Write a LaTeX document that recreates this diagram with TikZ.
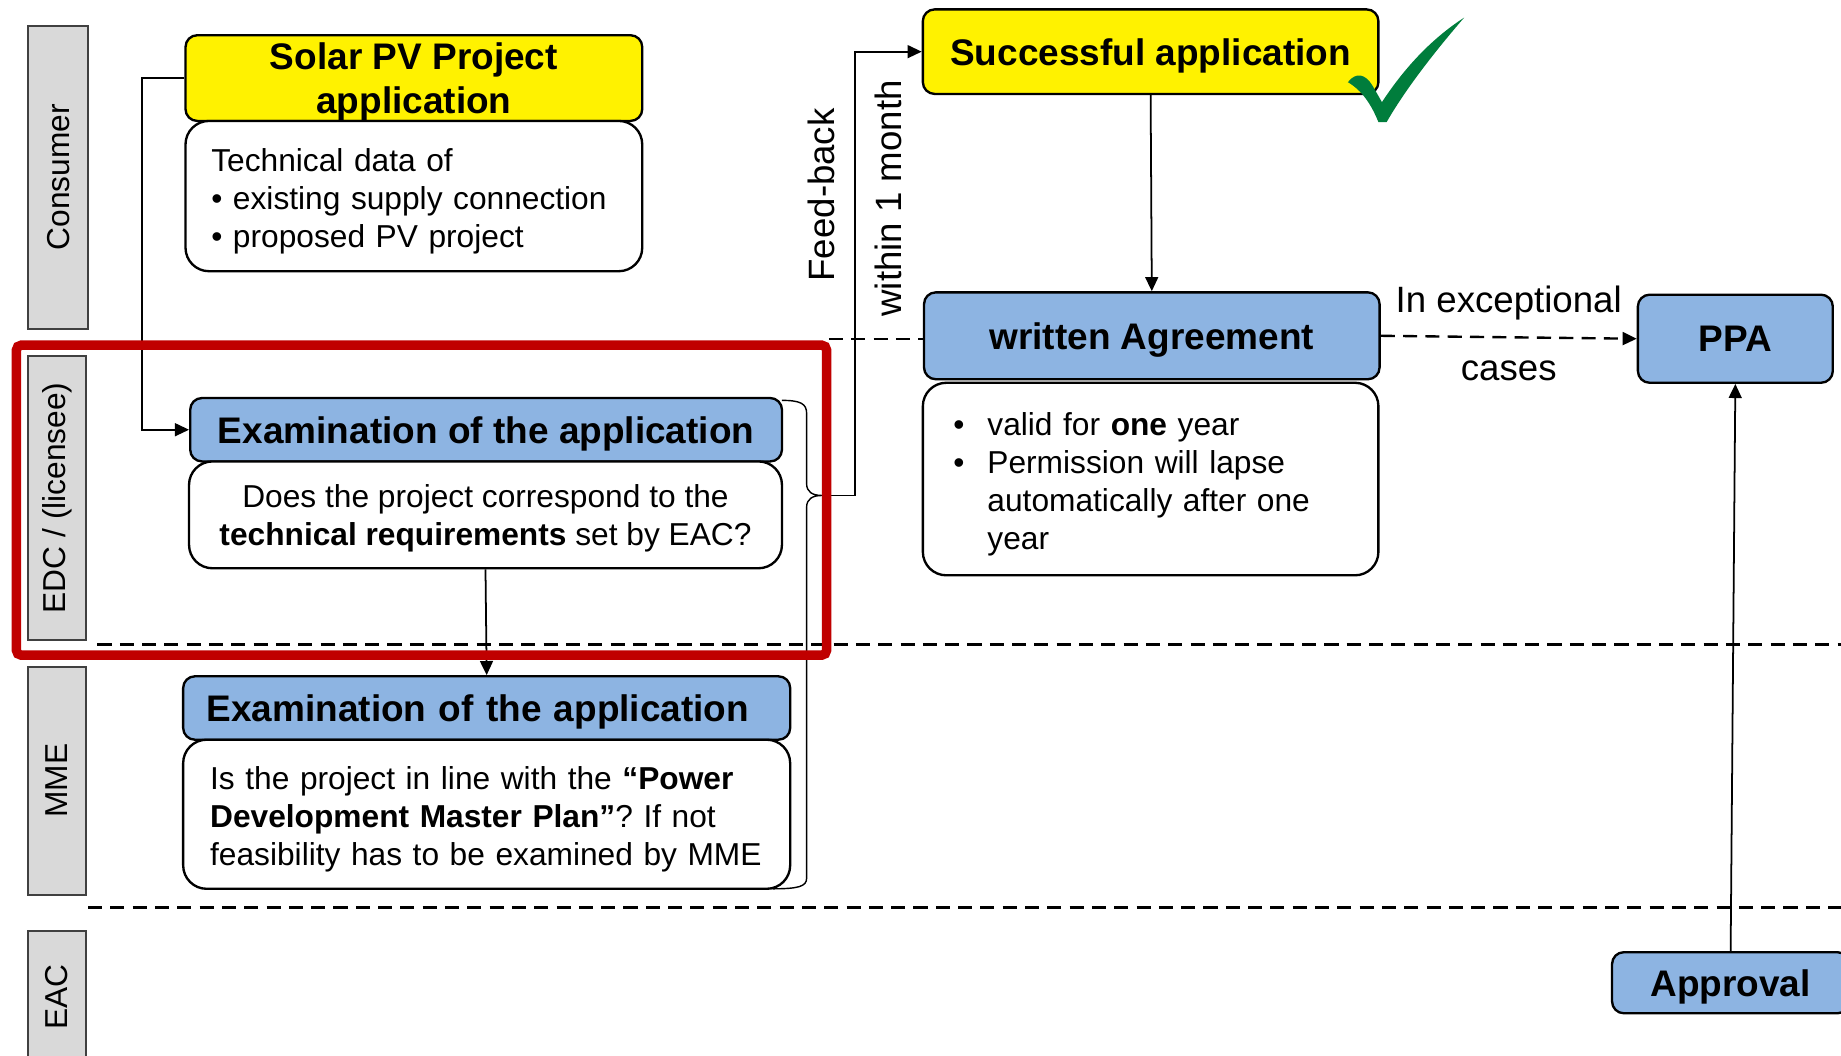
\documentclass[tikz,border=0pt]{standalone}
\usepackage{fontspec}
\setmainfont{Liberation Sans}
\usetikzlibrary{arrows.meta,calc}
\definecolor{boxblue}{RGB}{141,180,226}
\definecolor{laneGray}{RGB}{217,217,217}
\definecolor{redframe}{RGB}{192,0,0}
\definecolor{checkgreen}{RGB}{0,125,60}
\newcommand{\hdfont}{\fontsize{15.75}{18.5}\selectfont\bfseries}
\newcommand{\bdfont}{\fontsize{13.5}{16.2}\selectfont\frenchspacing}
\newcommand{\lblfont}{\fontsize{15.6}{18.5}\selectfont}
\begin{document}
\begin{tikzpicture}[x=0.5pt,y=-0.5pt,
  lane/.style={draw=black!75, line width=1pt, fill=laneGray, rotate=90, font=\bdfont, inner sep=0pt},
  head/.style={draw, line width=1pt, rounded corners=5pt, font=\hdfont, inner sep=0pt, align=center, text depth=0pt},
  body/.style={draw, line width=1pt, rounded corners=10pt, fill=white, font=\bdfont, inner ysep=0pt, text depth=0pt},
  conn/.style={line width=0.75pt, -{Triangle[length=6pt,width=5.5pt]}},
  sep/.style={line width=1pt, dash pattern=on 6pt off 3.5pt}]
\fill[white] (0,0) rectangle (1568,898.6);
\useasboundingbox (0,0) rectangle (1568,898.6);

% lane separators
\draw[sep] (83,549) -- (1568,549);
\draw[sep] (75,773) -- (1568,773);
\draw[sep] (706,289) -- (787,289);

% lane labels
\node[lane, minimum width=129pt, minimum height=25.5pt] (lc) at (49.5,151) {Consumer};
\node[lane, minimum width=121pt, minimum height=24.5pt] (le) at (48.5,424) {EDC / (licensee)};
\node[lane, minimum width=97pt, minimum height=24.5pt] (lm) at (48.5,665) {MME};
\node[lane, minimum width=56pt, minimum height=24.5pt] (la) at (48.5,849) {EAC};

% consumer
\node[head, fill=yellow, minimum width=194.5pt, minimum height=36.5pt] (solar) at (352.5,66.5) {Solar PV Project\\application};
\node[body, minimum width=194.5pt, minimum height=64pt, text width=172.5pt, inner xsep=11pt, align=left] (solarb) at (352.5,167) {\begin{tabular}[b]{@{}l@{}}
Technical data of\\
• existing supply connection\\
• proposed PV project
\end{tabular}};

% EDC
\node[head, fill=boxblue, minimum width=252pt, minimum height=27pt] (ex1h) at (414,366) {Examination of the application};
\node[body, minimum width=252.5pt, minimum height=45.5pt, align=center] (ex1b) at (413.5,438.5) {Does the project correspond to the\\\textbf{technical requirements} set by EAC?};

% MME
\node[head, fill=boxblue, minimum width=258.5pt, minimum height=27pt, text width=238.5pt, inner xsep=10pt, align=left] (ex2h) at (414.5,603) {Examination of the application};
\node[body, minimum width=258.5pt, minimum height=63.5pt, text width=235.5pt, inner xsep=11.5pt, align=left] (ex2b) at (414.5,693.5) {\begin{tabular}[b]{@{}l@{}}
Is the project in line with the \textbf{“Power}\\
\textbf{Development Master Plan”}? If not\\
feasibility has to be examined by MME
\end{tabular}};

% right side
\node[head, fill=yellow, minimum width=194pt, minimum height=36pt] (succ) at (980,44) {Successful application};
\node[head, fill=boxblue, minimum width=194pt, minimum height=37pt] (agree) at (981,286) {written Agreement};
\node[body, minimum width=194pt, minimum height=82pt, text width=168pt, inner xsep=13pt, align=left] (agreeb) at (980,408) {\begin{tabular}[b]{@{}p{14.5pt}@{}l@{}}
•& valid for \textbf{one} year\\
•& Permission will lapse\\
& automatically after one\\
& year
\end{tabular}};
\node[head, fill=boxblue, minimum width=83pt, minimum height=37.5pt] (ppa) at (1478,288.5) {PPA};
\node[head, fill=boxblue, minimum width=101pt, minimum height=26pt] (appr) at (1474,837) {Approval};

% check mark
\fill[checkgreen] (1148,70) .. controls (1155,61) and (1163,63) .. (1169,73) -- (1177,87) .. controls (1200,52) and (1224,30) .. (1247,15) .. controls (1222,44) and (1197,76) .. (1181,104) -- (1174,104) .. controls (1168,89) and (1160,77) .. cycle;

% connectors
\coordinate (c1) at (121,67);
\draw[conn] (solar.west) -- (solar.west -| c1) |- (ex1h.west);
\draw[conn] (ex1b.south) -- (ex2h.north);
\draw[conn] (succ.south) -- (agree.north);
\draw[conn, dash pattern=on 6pt off 3.5pt, line width=1pt] (agree.east) -- (ppa.west)
  node[midway, yshift=14.5pt, font=\lblfont] {In exceptional}
  node[midway, yshift=-14.5pt, font=\lblfont] {cases};
\draw[conn] (appr.north) -- (ppa.south);

% brace
\draw[line width=0.6pt] (666,341) .. controls (682,341) and (687,344) .. (687,352) -- (687,412) .. controls (687,419) and (692,422) .. (700,422) .. controls (692,422) and (687,425) .. (687,432) -- (687,748) .. controls (687,755) and (680,757) .. (658,757);
\coordinate (bt) at (700,422);
\coordinate (fbx) at (728,422);
\draw[conn] (bt) -- (fbx) |- (succ.west);
\node[rotate=90, font=\lblfont] (fb) at (700,166) {Feed-back};
\node[rotate=90, font=\lblfont] (wm) at (757,169) {within 1 month};

% red frame
\draw[redframe, line width=4pt, rounded corners=2pt] (14,294) rectangle (704,558);
\end{tikzpicture}
\end{document}
